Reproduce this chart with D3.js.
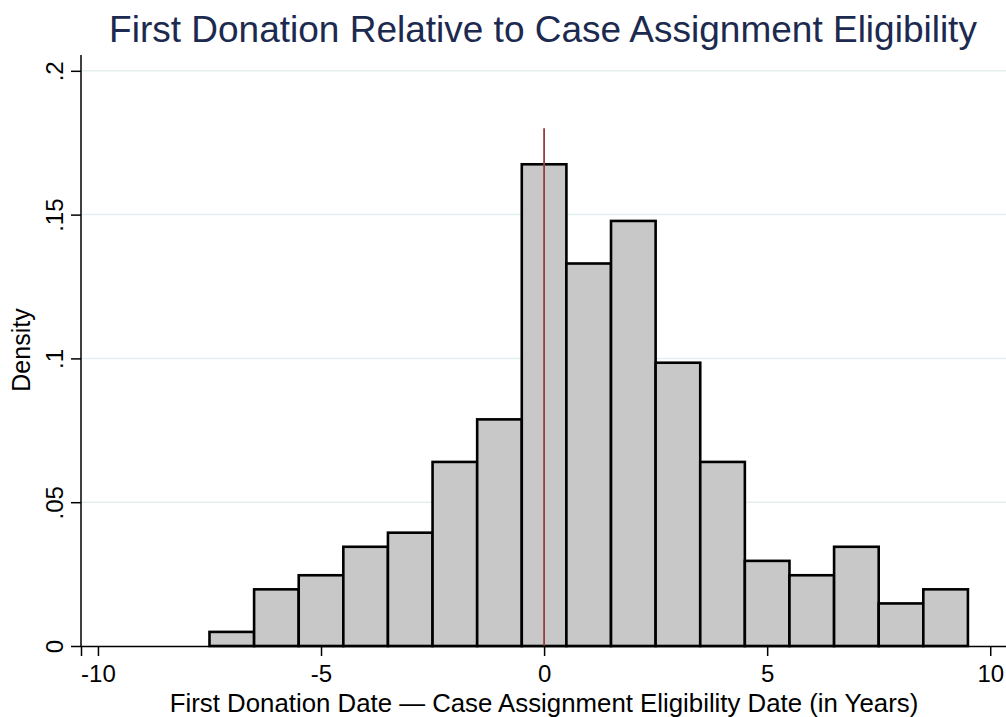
<!DOCTYPE html>
<html>
<head>
<meta charset="utf-8">
<script src="https://cdn.jsdelivr.net/npm/d3@7"></script>
<style>
  body { margin: 0; background: #fff; }
  svg { font-family: "Liberation Sans", Arial, Helvetica, sans-serif; }
</style>
</head>
<body>
<div id="vis"></div>
<script>
// bin centres (years) and density heights
var bins = [-7, -6, -5, -4, -3, -2, -1, 0, 1, 2, 3, 4, 5, 6, 7, 8, 9];
var density = [0.0049, 0.0197, 0.0246, 0.0345, 0.0394, 0.0640, 0.0788, 0.1675,
               0.1330, 0.1478, 0.0985, 0.0640, 0.0296, 0.0246, 0.0345, 0.0148, 0.0197];
var xTicks = [-10, -5, 0, 5, 10];
var xTickLabels = ["-10", "-5", "0", "5", "10"];
var yTicks = [0, 0.05, 0.1, 0.15, 0.2];
var yTickLabels = ["0", ".05", ".1", ".15", ".2"];
var cutoff = 0, cutoffTop = 0.18;

var width = 1006, height = 717;

var xMin = -10.38, xMax = 10.6;
var x = d3.scaleLinear().domain([xMin, xMax]).range([81, 1017]);
var y = d3.scaleLinear().domain([0, 0.2055]).range([646, 55]);

var svg = d3.select("#vis").append("svg")
    .attr("width", width)
    .attr("height", height);

// gridlines
svg.append("g").selectAll("line")
    .data(yTicks.slice(1))
  .enter().append("line")
    .attr("x1", x(xMin))
    .attr("x2", width)
    .attr("y1", function(d) { return y(d); })
    .attr("y2", function(d) { return y(d); })
    .attr("stroke", "#e3eeee")
    .attr("stroke-width", 1.5);

// bars
var data = bins.map(function(b, i) { return {x: b, d: density[i]}; });
svg.append("g").selectAll("rect")
    .data(data)
  .enter().append("rect")
    .attr("x", function(d) { return x(d.x - 0.5); })
    .attr("width", function(d) { return x(d.x + 0.5) - x(d.x - 0.5); })
    .attr("y", function(d) { return y(d.d); })
    .attr("height", function(d) { return y(0) - y(d.d); })
    .attr("fill", "#c8c8c8")
    .attr("stroke", "#000")
    .attr("stroke-width", 2.6);

// cutoff line
svg.append("line")
    .attr("x1", x(cutoff)).attr("x2", x(cutoff))
    .attr("y1", y(0)).attr("y2", y(cutoffTop))
    .attr("stroke", "#9e3a3f")
    .attr("stroke-width", 1.8);

// x axis
var xAxis = d3.axisBottom(x).tickValues(xTicks).tickSize(10).tickPadding(9)
    .tickFormat(function(d, i) { return xTickLabels[i]; });
var gx = svg.append("g")
    .attr("transform", "translate(0," + y(0) + ")")
    .call(xAxis);
gx.select(".domain").attr("stroke", "#000").attr("stroke-width", 1.5);
gx.selectAll(".tick line").attr("stroke", "#000").attr("stroke-width", 1.5);
gx.selectAll("text").attr("font-size", "24px").attr("fill", "#000")
    .attr("font-family", "Liberation Sans, Arial, sans-serif");

// y axis
var yAxis = d3.axisLeft(y).tickValues(yTicks).tickSize(10).tickPadding(6)
    .tickFormat(function(d, i) { return yTickLabels[i]; });
var gy = svg.append("g")
    .attr("transform", "translate(" + x(xMin) + ",0)")
    .call(yAxis);
gy.select(".domain").attr("stroke", "#000").attr("stroke-width", 1.5)
    .attr("d", "M0," + y(0.2055) + "V" + y(0));
gy.selectAll(".tick line").attr("stroke", "#000").attr("stroke-width", 1.5);
gy.selectAll("text")
    .attr("font-size", "24px").attr("fill", "#000")
    .attr("font-family", "Liberation Sans, Arial, sans-serif")
    .attr("x", 0).attr("dy", 0)
    .attr("text-anchor", "middle")
    .attr("transform", "translate(-18,0) rotate(-90)");

// titles
svg.append("text")
    .attr("x", 543).attr("y", 42)
    .attr("text-anchor", "middle")
    .attr("font-size", "37px")
    .attr("fill", "#1c2a50")
    .text("First Donation Relative to Case Assignment Eligibility");

svg.append("text")
    .attr("x", 544).attr("y", 712)
    .attr("text-anchor", "middle")
    .attr("font-size", "25.8px")
    .attr("fill", "#000")
    .text("First Donation Date \u2014 Case Assignment Eligibility Date (in Years)");

svg.append("text")
    .attr("transform", "translate(30,350) rotate(-90)")
    .attr("text-anchor", "middle")
    .attr("font-size", "25px")
    .attr("fill", "#000")
    .text("Density");
</script>
</body>
</html>
